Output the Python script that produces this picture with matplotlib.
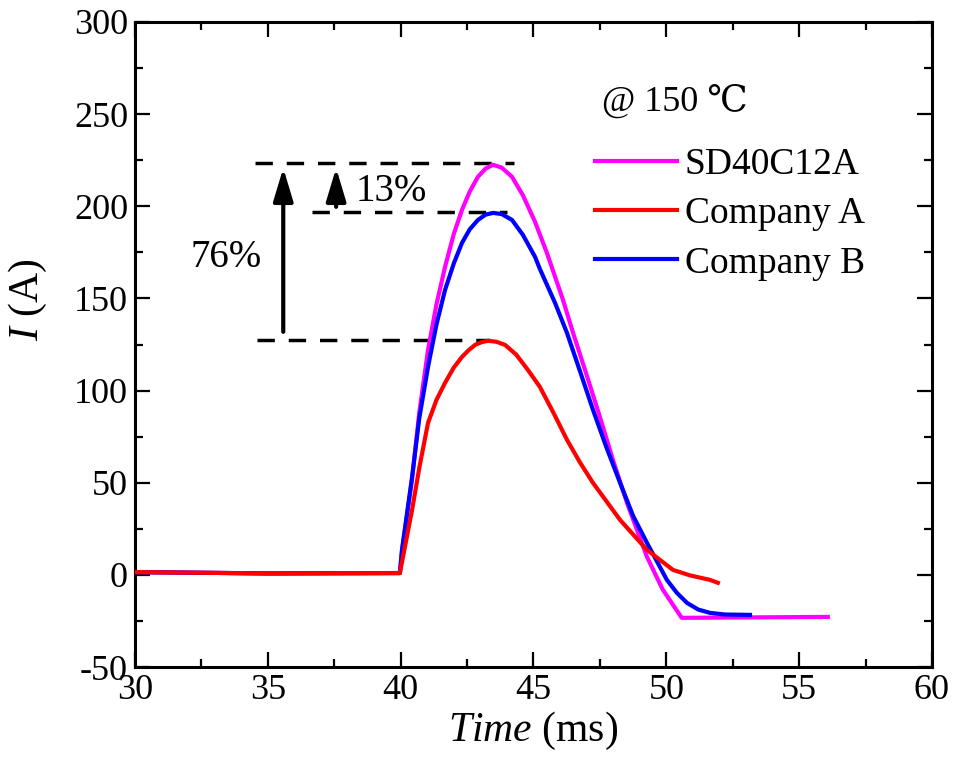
import matplotlib
matplotlib.use('Agg')
import matplotlib.pyplot as plt
from matplotlib.ticker import MultipleLocator

plt.rcParams['font.family'] = ['Liberation Serif', 'DejaVu Serif']
plt.rcParams['mathtext.fontset'] = 'custom'
plt.rcParams['mathtext.rm'] = 'Liberation Serif'
plt.rcParams['mathtext.it'] = 'Liberation Serif:italic'
plt.rcParams['axes.unicode_minus'] = False

# current pulses (time in ms, current in A)
t_sd = [30.0, 35.0, 39.97, 40.05, 40.43, 40.7, 41.03, 41.35, 41.67, 42.0, 42.31, 42.6,
        42.91, 43.2, 43.48, 43.8, 44.19, 44.6, 45.06, 45.51, 46.11, 46.49, 47.0,
        47.50, 48.0, 48.52, 49.27, 49.87, 50.58, 56.08]
i_sd = [1.5, 0.8, 1.0, 13.0, 52.0, 88.0, 122.1, 147.0, 167.1, 185.0, 198.1, 208.0,
        216.0, 220.5, 222.5, 221.0, 216.0, 206.0, 191.5, 174.5, 149.2, 131.3, 108.5,
        85.7, 62.0, 39.1, 9.8, -8.1, -23.3, -22.8]

t_a = [30.0, 35.0, 39.97, 40.43, 40.7, 41.03, 41.35, 41.67, 42.0, 42.31, 42.55, 42.80,
       43.05, 43.29, 43.6, 43.93, 44.35, 44.79, 45.24, 45.75, 46.26, 46.75, 47.24,
       48.26, 49.27, 50.25, 50.9, 51.64, 51.94]
i_a = [1.5, 0.8, 1.0, 35.3, 58.0, 82.5, 95.0, 104.2, 112.5, 118.3, 121.8, 124.8,
       126.3, 127.0, 126.5, 124.8, 119.5, 111.2, 102.0, 88.0, 73.3, 61.0, 49.9,
       29.8, 13.6, 2.7, -0.3, -2.7, -4.3]

t_b = [30.0, 35.0, 39.97, 40.05, 40.43, 40.7, 41.03, 41.35, 41.67, 42.0, 42.31, 42.6,
       42.91, 43.2, 43.48, 43.8, 44.19, 44.6, 45.06, 45.24, 45.81, 46.26, 46.75,
       47.24, 47.75, 48.26, 48.75, 49.27, 50.02, 50.4, 50.78, 51.2, 51.64, 52.2, 53.15]
i_b = [1.5, 0.8, 1.0, 13.6, 53.2, 85.0, 112.9, 136.0, 154.6, 169.0, 180.2, 187.5,
       192.6, 195.5, 196.4, 195.8, 192.6, 184.5, 172.5, 166.0, 147.6, 131.3, 110.5,
       89.5, 69.0, 49.9, 32.0, 17.4, -2.7, -9.8, -15.2, -18.8, -20.6, -21.5, -21.7]

labels = ['SD40C12A', 'Company A', 'Company B']
colors = ['#ff00ff', '#ff0000', '#0000ff']

# peak guide lines and arrows
peak_sd, peak_b, peak_a = 223.6, 197.0, 127.5
guide_x = [(34.52, 44.25), (36.66, 44.00), (34.59, 43.36)]
big_arrow = (35.58, 131.9, 220.8)
small_arrow = (37.57, 199.7, 220.8)

fig = plt.figure(figsize=(9.61, 7.58), dpi=100)
ax = fig.add_axes([0.1405, 0.12, 0.8293, 0.851])

l_sd, = ax.plot(t_sd, i_sd, color=colors[0], lw=3, label=labels[0], zorder=3)
l_b, = ax.plot(t_b, i_b, color=colors[2], lw=3, label=labels[2], zorder=4)
l_a, = ax.plot(t_a, i_a, color=colors[1], lw=3, label=labels[1], zorder=5)

for yv, (x0, x1) in zip([peak_sd, peak_b, peak_a], guide_x):
    ax.plot([x0, x1], [yv, yv], color='k', lw=2.5, dashes=(5, 4), zorder=2)

for xa, y0, y1 in [big_arrow, small_arrow]:
    ax.annotate('', xy=(xa, y1), xytext=(xa, y0),
                arrowprops=dict(arrowstyle='-|>,head_length=2.0,head_width=0.6',
                                mutation_scale=10, lw=3, color='k',
                                shrinkA=0, shrinkB=0))

ax.text(33.43, 172, '76%', fontsize=28, ha='center', va='center')
ax.text(38.30, 208, '13%', fontsize=28, ha='left', va='center')
ax.text(47.58, 257, '@ 150 \u2103', fontsize=26, ha='left', va='center')

ax.legend(handles=[l_sd, l_a, l_b], loc='upper left', frameon=False,
          bbox_to_anchor=(0.577, 0.805), borderpad=0, borderaxespad=0,
          handlelength=2.19, handletextpad=0.21, labelspacing=0.39, fontsize=27)

ax.set_xlim(30, 60)
ax.set_ylim(-50, 300)
ax.xaxis.set_major_locator(MultipleLocator(5))
ax.xaxis.set_minor_locator(MultipleLocator(2.5))
ax.yaxis.set_major_locator(MultipleLocator(50))
ax.yaxis.set_minor_locator(MultipleLocator(25))
ax.tick_params(which='both', direction='in', top=True, right=True, width=1.6,
               labelsize=26, pad=5)
ax.tick_params(which='major', length=11)
ax.tick_params(which='minor', length=6)
for sp in ax.spines.values():
    sp.set_linewidth(2.2)

ax.set_xlabel(r'$\mathit{Time}$ (ms)', fontsize=30, labelpad=2)
ax.set_ylabel(r'$\mathit{I}$ (A)', fontsize=30)
ax.yaxis.set_label_coords(-0.108, 0.57)

fig.savefig('out.png', dpi=100)
